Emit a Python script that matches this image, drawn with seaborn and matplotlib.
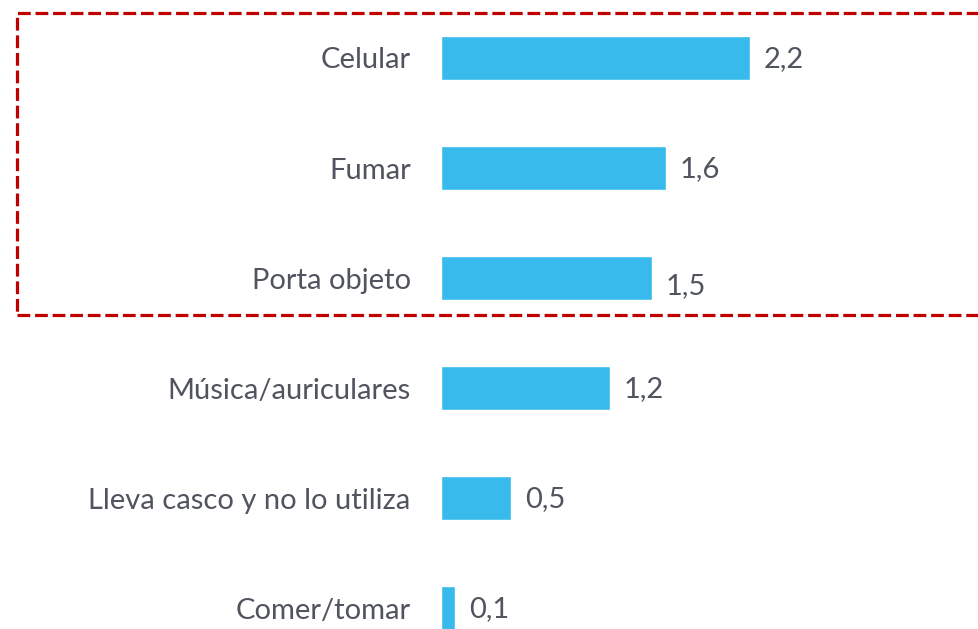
import matplotlib
matplotlib.use("Agg")
import matplotlib.pyplot as plt
import seaborn as sns
import pandas as pd
from matplotlib.patches import Rectangle

categories = ["Celular", "Fumar", "Porta objeto", "Música/auriculares",
              "Lleva casco y no lo utiliza", "Comer/tomar"]
values = [2.2, 1.6, 1.5, 1.2, 0.5, 0.1]
value_labels = ["2,2", "1,6", "1,5", "1,2", "0,5", "0,1"]

sns.set_theme(style="white")
plt.rcParams['font.family'] = ['Lato', 'DejaVu Sans']

BAR = "#38BBEC"
TXT = "#50545E"
RED = "#C00000"

df = pd.DataFrame({"cat": categories, "val": values})

fig = plt.figure(figsize=(9.79, 6.29), dpi=100)
ax = fig.add_axes([441 / 979, 0, 538 / 979, 1])
sns.barplot(data=df, x="val", y="cat", orient="h", color=BAR, width=0.4,
            saturation=1, ax=ax)
ax.set_xlim(0, 538 / 140.5)
ax.set_ylim(5.19, -0.527)
ax.set_xlabel("")
ax.set_ylabel("")
ax.set_xticks([])
for s in ax.spines.values():
    s.set_visible(False)
ax.tick_params(axis="y", left=False, pad=15.8, labelsize=21, labelcolor=TXT)

for i, (v, lab) in enumerate(zip(values, value_labels)):
    dy = -6 if i == 2 else -1
    ax.annotate(lab, xy=(v, i), xytext=(10, dy), textcoords="offset points",
                ha="left", va="center", fontsize=21, color=TXT)

rect = Rectangle((17 / 979, 1 - 315 / 629), (1000 - 17) / 979, (315 - 13) / 629,
                 transform=fig.transFigure, fill=False, edgecolor=RED,
                 linewidth=2.3, linestyle=(0, (4, 1.5)), clip_on=False)
fig.patches.append(rect)

fig.savefig("out.png", dpi=100)
